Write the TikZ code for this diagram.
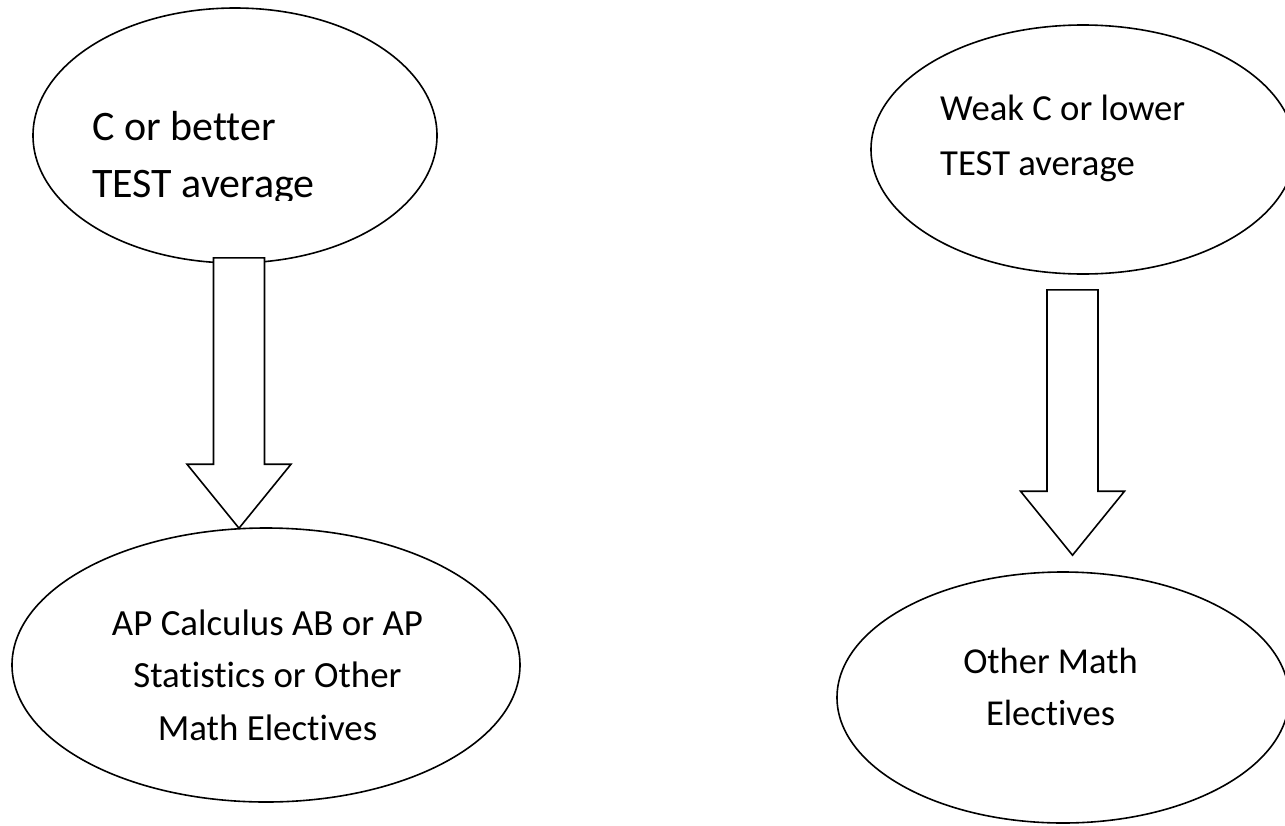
\documentclass[tikz,border=0pt]{standalone}
\usepackage{fontspec}
\setmainfont{Carlito}[Ligatures=NoCommon]
\usetikzlibrary{shapes.geometric,calc}

\tikzset{
    choice/.style={ellipse, draw=black, fill=white, line width=1.6pt, inner sep=0pt},
    bigtext/.style={font=\fontsize{42}{57}\selectfont, inner sep=0pt},
    labeltext/.style={font=\fontsize{36.7}{53}\selectfont, inner sep=0pt},
    blockarrow/.style={draw=black, fill=white, line width=1.6pt, line join=miter}
}

% block arrow pointing down from #1 (middle of the tail) to #2 (the tip)
\newcommand{\downblock}[2]{%
    \draw[blockarrow] let \p1=(#1), \p2=(#2) in
        (\x1-25.5pt,\y1) -- (\x1+25.5pt,\y1) -- (\x1+25.5pt,\y2+64pt) -- (\x1+52pt,\y2+64pt)
        -- (\x1,\y2) -- (\x1-52pt,\y2+64pt) -- (\x1-25.5pt,\y2+64pt) -- cycle;}

\begin{document}
\begin{tikzpicture}[x=1pt, y=-1pt]
    \useasboundingbox (0,0) rectangle (1285,825);
    % Grades
    \node (better) [choice, minimum width=404pt, minimum height=255pt] at (235,135.5) {};
    \begin{scope}
        \clip (0,0) rectangle (1285,200);
        \node (betterlabel) [bigtext, anchor=base west, align=left] at (92,197) {C or better\\TEST average};
    \end{scope}
    \node (weak) [choice, minimum width=424pt, minimum height=249pt] at (1083,149.5) {};
    \node (weaklabel) [labeltext, font=\fontsize{36.7}{55}\selectfont, anchor=base west, align=left] at (940,175) {Weak C or lower\\TEST average};

    % Courses
    \node (apcalc) [choice, minimum width=508pt, minimum height=274pt] at (266,665) {};
    \node (apcalclabel) [labeltext, font=\fontsize{36.9}{52.5}\selectfont, anchor=base, align=center] at (267.5,740) {AP Calculus AB or AP\\Statistics or Other\\Math Electives};
    \node (other) [choice, minimum width=452pt, minimum height=251pt] at (1063,697.5) {};
    \node (otherlabel) [labeltext, font=\fontsize{36.5}{52}\selectfont, anchor=base, align=center] at (1050.5,725) {Other Math\\Electives};

    % Arrows
    \coordinate (tailL) at ($(better.south)+(4,-6)$);
    \coordinate (tipL) at ($(apcalc.north)+(-27,1)$);
    \coordinate (tailR) at ($(weak.south)+(-10.5,15)$);
    \coordinate (tipR) at ($(other.north)+(9.5,-16)$);
    \downblock{tailL}{tipL}
    \downblock{tailR}{tipR}
\end{tikzpicture}
\end{document}
